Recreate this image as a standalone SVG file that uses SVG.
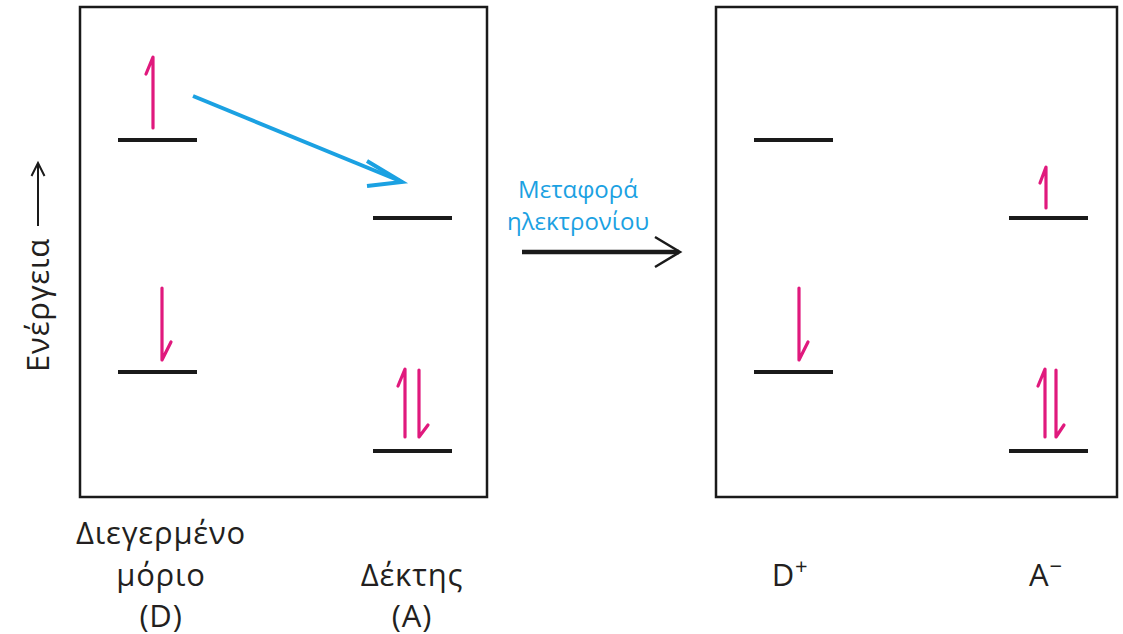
<svg xmlns="http://www.w3.org/2000/svg" width="1123" height="634" viewBox="0 0 1123 634">
<style>
.box{fill:none;stroke:#1a1a1a;stroke-width:2.5}
.lvl{stroke:#1a1a1a;stroke-width:4;fill:none}
.spin{stroke:#e0197d;stroke-width:3.2;fill:none;stroke-linecap:round;stroke-linejoin:round}
.lbl{font-family:"Open Sans","Liberation Sans",sans-serif;font-size:31px;letter-spacing:0.8px;fill:#231f20;text-anchor:middle}
.blue{font-family:"Open Sans","Liberation Sans",sans-serif;font-size:24px;fill:#1ba1e2;text-anchor:middle}
</style>
<rect width="1123" height="634" fill="#fff"/>
<g id="panel-left">
<rect class="box" x="80" y="7" width="407" height="490"/>
</g>
<g id="panel-right">
<rect class="box" x="716" y="7" width="401" height="490"/>
</g>
<g id="D-upper">
<line class="lvl" x1="118" y1="140" x2="197" y2="140"/>
<path class="spin" d="M153 128 V57 L146 74"/>
</g>
<g id="D-lower">
<line class="lvl" x1="118" y1="372" x2="197" y2="372"/>
<path class="spin" d="M162 288 V360 L171 342"/>
</g>
<g id="A-upper">
<line class="lvl" x1="373" y1="218" x2="452" y2="218"/>
</g>
<g id="A-lower">
<line class="lvl" x1="373" y1="451" x2="452" y2="451"/>
<path class="spin" d="M405 437 V369 L398 386"/>
<path class="spin" d="M419 370 V437 L428 425"/>
</g>
<g id="Dplus-upper">
<line class="lvl" x1="754" y1="140" x2="833" y2="140"/>
</g>
<g id="Dplus-lower">
<line class="lvl" x1="754" y1="372" x2="833" y2="372"/>
<path class="spin" d="M799 288 V360 L808 342"/>
</g>
<g id="Aminus-upper">
<line class="lvl" x1="1009" y1="218" x2="1088" y2="218"/>
<path class="spin" d="M1046 208 V167 L1040 183"/>
</g>
<g id="Aminus-lower">
<line class="lvl" x1="1009" y1="451" x2="1088" y2="451"/>
<path class="spin" d="M1045 437 V369 L1038 386"/>
<path class="spin" d="M1056 370 V437 L1064 425"/>
</g>
<g id="connectors">
<line x1="193" y1="96" x2="400" y2="181" stroke="#1ba1e2" stroke-width="4"/>
<path d="M367 161 L402 182 L367 186" fill="none" stroke="#1ba1e2" stroke-width="4" stroke-linejoin="miter"/>
<line x1="522" y1="252" x2="679" y2="252" stroke="#1a1a1a" stroke-width="4.5"/>
<path d="M655 237 L680 252 L655 267" fill="none" stroke="#1a1a1a" stroke-width="2.5"/>
<line x1="38" y1="226" x2="38" y2="164" stroke="#1a1a1a" stroke-width="2"/>
<path d="M31.5 176 L38 163 L44.5 176" fill="none" stroke="#1a1a1a" stroke-width="2"/>
</g>
<g id="labels">
<text class="lbl" transform="translate(49 305) rotate(-90)" letter-spacing="2.5">Ενέργεια</text>
<text class="blue" x="578" y="198">Μεταφορά</text>
<text class="blue" x="578" y="230">ηλεκτρονίου</text>
<text class="lbl" x="161" y="544">Διεγερμένο</text>
<text class="lbl" x="161" y="586">μόριο</text>
<text class="lbl" x="161" y="627">(D)</text>
<text class="lbl" x="412" y="586">Δέκτης</text>
<text class="lbl" x="412" y="627">(A)</text>
<text class="lbl" x="790" y="586">D<tspan font-size="22" dy="-12">+</tspan></text>
<text class="lbl" x="1046" y="586">A<tspan font-size="22" dy="-12">−</tspan></text>
</g>
</svg>
